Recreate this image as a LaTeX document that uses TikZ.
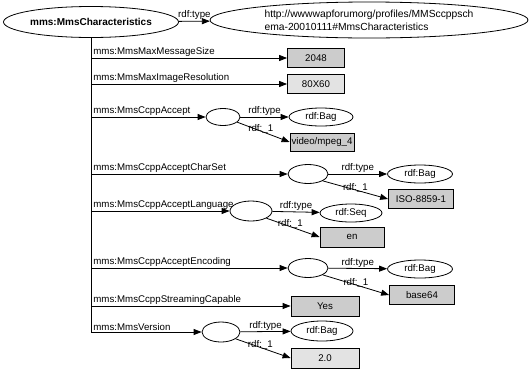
\documentclass[tikz,border=0pt]{standalone}
\usepackage{fontspec}
\setmainfont{Liberation Sans}
\usetikzlibrary{shapes.geometric,arrows.meta}

\begin{document}
\begin{tikzpicture}[x=1pt,y=-1pt,
  every node/.style={font=\fontsize{9.7}{11}\selectfont},
  link/.style={line width=0.8pt,-{Triangle[length=8pt,width=6pt]}},
  trunk/.style={line width=0.8pt},
  oval/.style={ellipse, draw, line width=0.8pt, inner sep=0pt},
  blank/.style={oval, minimum width=40pt, minimum height=19pt},
  typeoval/.style={oval, minimum width=65pt, minimum height=18pt},
  literal/.style={rectangle, draw, line width=0.8pt, fill=gray!40,
    minimum width=65pt, minimum height=19pt, inner sep=0pt},
  paleliteral/.style={literal, fill=gray!22},
  prop/.style={anchor=south west, inner sep=1pt, xshift=1pt},
  edgelbl/.style={inner sep=1pt},
  idxlbl/.style={inner sep=0.5pt, anchor=south, yshift=-3pt}
]
\useasboundingbox (0,0) rectangle (529,370);

% resource and its class
\node[oval, minimum width=175pt, minimum height=31pt,
      font=\bfseries\fontsize{10}{12}\selectfont] (root) at (91,22) {mms:MmsCharacteristics};
\node[oval, minimum width=318pt, minimum height=36pt, align=left,
      font=\fontsize{10.3}{13}\selectfont] (url) at (369,20)
      {http://wwwwapforumorg/profiles/MMSccppsch\\ema-20010111\#MmsCharacteristics};
\draw[link] (root) -- node[above, edgelbl] {rdf:type} (url);

% attachment points on the property trunk
\coordinate (t1) at (91,58);
\coordinate (t2) at (91,84);
\coordinate (t3) at (91,117);
\coordinate (t4) at (91,174);
\coordinate (t5) at (91,211);
\coordinate (t6) at (91,268);
\coordinate (t7) at (91,306);
\coordinate (t8) at (91,332);
\draw[trunk] (root.south) -- (t8);

% MmsMaxMessageSize
\node[literal, minimum width=57pt] (v1) at (316,58) {2048};
\draw[link] (t1) -- (v1) node[prop, pos=0] {mms:MmsMaxMessageSize};

% MmsMaxImageResolution
\node[paleliteral, minimum width=57pt] (v2) at (316,84) {80X60};
\draw[link] (t2) -- (v2) node[prop, pos=0] {mms:MmsMaxImageResolution};

% MmsCcppAccept
\node[blank, minimum width=34pt, minimum height=17pt] (b3) at (223,117) {};
\node[typeoval, minimum width=64pt] (bag3) at (321,117) {rdf:Bag};
\node[literal, minimum width=64pt, minimum height=18pt] (v3) at (322,142) {video/mpeg\_4};
\draw[link] (t3) -- (b3) node[prop, pos=0] {mms:MmsCcppAccept};
\draw[link] (b3) -- node[above, edgelbl] {rdf:type} (bag3);
\draw[link] (b3.-20) -- node[idxlbl, pos=0.45] {rdf:\_1} (v3.west);

% MmsCcppAcceptCharSet
\node[blank] (b4) at (308,174) {};
\node[typeoval] (bag4) at (420,174) {rdf:Bag};
\node[literal] (v4) at (421,199) {ISO-8859-1};
\draw[link] (t4) -- (b4) node[prop, pos=0] {mms:MmsCcppAcceptCharSet};
\draw[link] (b4) -- node[above, edgelbl] {rdf:type} (bag4);
\draw[link] (b4.-25) -- node[idxlbl, pos=0.5] {rdf:\_1} (v4.west);

% MmsCcppAcceptLanguage
\node[blank, minimum width=42pt, minimum height=20pt] (b5) at (251,211) {};
\node[typeoval, minimum width=62pt] (seq5) at (351,213) {rdf:Seq};
\node[literal, minimum width=64pt, minimum height=20pt] (v5) at (352,237) {en};
\draw[link] (t5) -- (b5) node[prop, pos=0] {mms:MmsCcppAcceptLanguage};
\draw[link] (b5) -- node[above, edgelbl] {rdf:type} (seq5);
\draw[link] (b5.-25) -- node[idxlbl, pos=0.45] {rdf:\_1} (v5.west);

% MmsCcppAcceptEncoding
\node[blank] (b6) at (308,268) {};
\node[typeoval] (bag6) at (420,269) {rdf:Bag};
\node[literal] (v6) at (422,295) {base64};
\draw[link] (t6) -- (b6) node[prop, pos=0] {mms:MmsCcppAcceptEncoding};
\draw[link] (b6) -- node[above, edgelbl] {rdf:type} (bag6);
\draw[link] (b6.-25) -- node[idxlbl, pos=0.5] {rdf:\_1} (v6.west);

% MmsCcppStreamingCapable
\node[literal, minimum width=68pt, minimum height=20pt] (v7) at (325,306) {Yes};
\draw[link] (t7) -- (v7) node[prop, pos=0] {mms:MmsCcppStreamingCapable};

% MmsVersion
\node[blank, minimum width=38pt, minimum height=20pt] (b8) at (221,332) {};
\node[typeoval, minimum width=62pt, minimum height=20pt] (bag8) at (322,331) {rdf:Bag};
\node[paleliteral, minimum width=68pt, minimum height=20pt] (v8) at (325,358) {2.0};
\draw[link] (t8) -- (b8) node[prop, pos=0] {mms:MmsVersion};
\draw[link] (b8) -- node[above, edgelbl] {rdf:type} (bag8);
\draw[link] (b8.-25) -- node[idxlbl, pos=0.45] {rdf:\_1} (v8.west);
\end{tikzpicture}
\end{document}
